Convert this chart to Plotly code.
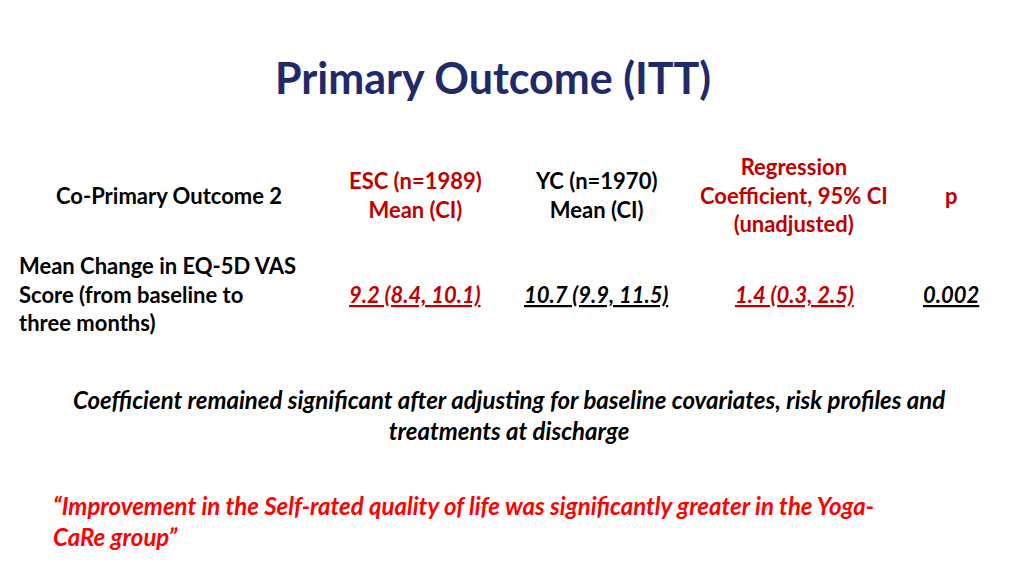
import plotly.graph_objects as go

title = "Primary Outcome (ITT)"
col_headers = ["Co-Primary Outcome 2", "ESC (n=1989)<br>Mean (CI)", "YC (n=1970)<br>Mean (CI)",
               "Regression<br>Coefficient, 95% CI<br>(unadjusted)", "p"]
header_colors = ["black", "#C00000", "black", "#C00000", "#C00000"]
row_label = "Mean Change in EQ-5D VAS<br>Score (from baseline to<br>three months)"
row_values = ["9.2 (8.4, 10.1)", "10.7 (9.9, 11.5)", "1.4 (0.3, 2.5)", "0.002"]
value_colors = ["#C00000", "black", "#C00000", "black"]
note = "Coefficient remained significant after adjusting for baseline covariates, risk profiles and<br>treatments at discharge"
quote = "“Improvement in the Self-rated quality of life was significantly greater in the Yoga-<br>CaRe group”"

W, H = 1024, 576
OX, OY = 9, 9
font = "Lato"
fig = go.Figure()
fig.update_layout(width=W, height=H, margin=dict(l=0, r=0, t=0, b=0),
                  paper_bgcolor="white", plot_bgcolor="white",
                  xaxis=dict(visible=False, range=[0, W]), yaxis=dict(visible=False, range=[H, 0]))

def ann(x, y, text, size, color, xanchor="center", align="center"):
    fig.add_annotation(x=x - OX, y=y - OY, xref="x", yref="y", text=text, showarrow=False,
                       font=dict(family=font, size=size, color=color),
                       xanchor=xanchor, yanchor="middle", align=align)

ann(494, 78, "<b>" + title + "</b>", 43, "#1F2A6B")
hx = [170, 416, 597, 795, 952]
for x, t, c in zip(hx, col_headers, header_colors):
    ann(x, 196, "<b>" + t + "</b>", 22, c)
ann(18, 295, "<b>" + row_label + "</b>", 22, "black", xanchor="left", align="left")
vx = [416, 597, 795, 952]
for x, t, c in zip(vx, row_values, value_colors):
    ann(x, 295, "<b><i><u>" + t + "</u></i></b>", 22, c)
ann(510, 416, "<b><i>" + note + "</i></b>", 24, "black")
ann(52, 522, "<b><i>" + quote + "</i></b>", 24, "#FF0000", xanchor="left", align="left")

fig.write_html("out.html")
